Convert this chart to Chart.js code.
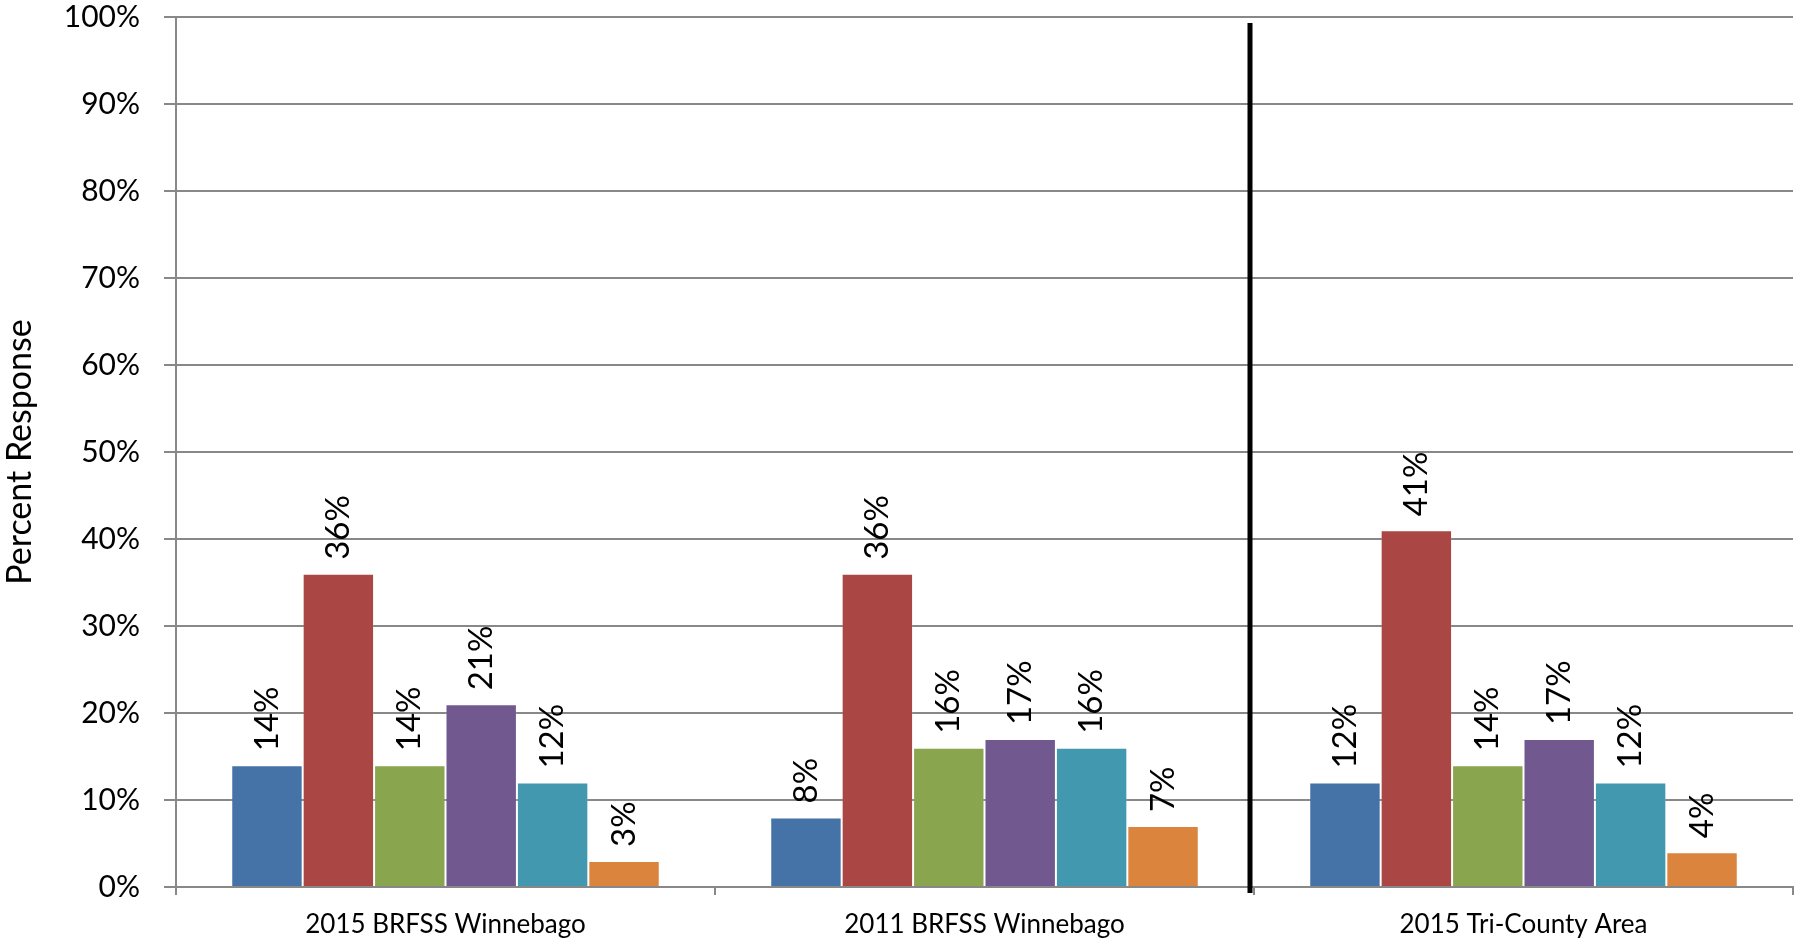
<!DOCTYPE html>
<html>
<head>
<meta charset="utf-8">
<script src="https://cdn.jsdelivr.net/npm/chart.js@4/dist/chart.umd.min.js"></script>
<style>
  html, body { margin: 0; padding: 0; background: #fff; }
  #wrap { width: 1806px; height: 945px; }
</style>
</head>
<body>
<div id="wrap"><canvas id="chart" width="1806" height="945"></canvas></div>
<script>
// Chart data
const groups = ['2015 BRFSS Winnebago', '2011 BRFSS Winnebago', '2015 Tri-County Area'];
const seriesNames = ['Response 1', 'Response 2', 'Response 3', 'Response 4', 'Response 5', 'Response 6'];
const series1 = [14, 8, 12];
const series2 = [36, 36, 41];
const series3 = [14, 16, 14];
const series4 = [21, 17, 17];
const series5 = [12, 16, 12];
const series6 = [3, 7, 4];
const yTicks = [0, 10, 20, 30, 40, 50, 60, 70, 80, 90, 100];

const colors = ['#4572A7', '#AA4643', '#89A54E', '#71588F', '#4198AF', '#DB843D'];
const allSeries = [series1, series2, series3, series4, series5, series6];

// Draw value labels rotated above each bar
const barLabels = {
    id: 'barLabels',
    afterDatasetsDraw(chart) {
        const ctx = chart.ctx;
        ctx.save();
        ctx.font = '33px Lato';
        ctx.fillStyle = '#000';
        ctx.textAlign = 'left';
        ctx.textBaseline = 'middle';
        chart.data.datasets.forEach((ds, i) => {
            chart.getDatasetMeta(i).data.forEach((bar, j) => {
                ctx.save();
                ctx.translate(bar.x, bar.y - 14);
                ctx.rotate(-Math.PI / 2);
                ctx.fillText(ds.data[j] + '%', 0, 0);
                ctx.restore();
            });
        });
        ctx.restore();
    }
};

// Thick black divider between the Winnebago groups and Tri-County
const divider = {
    id: 'divider',
    afterDatasetsDraw(chart) {
        const x = chart.scales.x;
        const area = chart.chartArea;
        const px = (x.getPixelForValue(1) + x.getPixelForValue(2)) / 2 - 4;
        const ctx = chart.ctx;
        ctx.save();
        ctx.strokeStyle = '#000';
        ctx.lineWidth = 5;
        ctx.beginPath();
        ctx.moveTo(px, area.top + 6);
        ctx.lineTo(px, area.bottom + 6);
        ctx.stroke();
        ctx.restore();
    }
};

new Chart(document.getElementById('chart'), {
    type: 'bar',
    data: {
        labels: groups,
        datasets: allSeries.map((d, i) => ({
            label: seriesNames[i],
            data: d,
            backgroundColor: colors[i],
            borderColor: 'rgba(255,255,255,0.15)',
            borderWidth: 1,
            barPercentage: 1,
            categoryPercentage: 0.795
        }))
    },
    options: {
        responsive: false,
        animation: false,
        layout: { padding: { top: 17, right: 13, bottom: 0, left: 0 } },
        plugins: {
            legend: { display: false },
            tooltip: { enabled: false }
        },
        scales: {
            x: {
                grid: {
                    offset: true,
                    drawOnChartArea: false,
                    drawTicks: true,
                    tickLength: 8,
                    color: '#888',
                    lineWidth: 2
                },
                border: { color: '#888', width: 2 },
                ticks: { color: '#000', font: { family: 'Lato', size: 26 }, padding: 14 },
                afterFit(scale) { scale.height = 58; }
            },
            y: {
                min: 0,
                max: 100,
                afterBuildTicks(scale) { scale.ticks = yTicks.map(v => ({ value: v })); },
                grid: { color: '#888', lineWidth: 2, tickLength: 12 },
                border: { color: '#888', width: 2 },
                ticks: {
                    color: '#000',
                    font: { family: 'Lato', size: 30 },
                    padding: 24,
                    callback: v => v + '%'
                },
                title: {
                    display: true,
                    text: 'Percent Response',
                    color: '#000',
                    font: { family: 'Lato', size: 34 },
                    padding: 0
                },
                afterFit(scale) {
                    scale.width = 176;
                    scale.paddingTop = 0;
                    scale.paddingBottom = 0;
                }
            }
        }
    },
    plugins: [barLabels, divider]
});
</script>
</body>
</html>
